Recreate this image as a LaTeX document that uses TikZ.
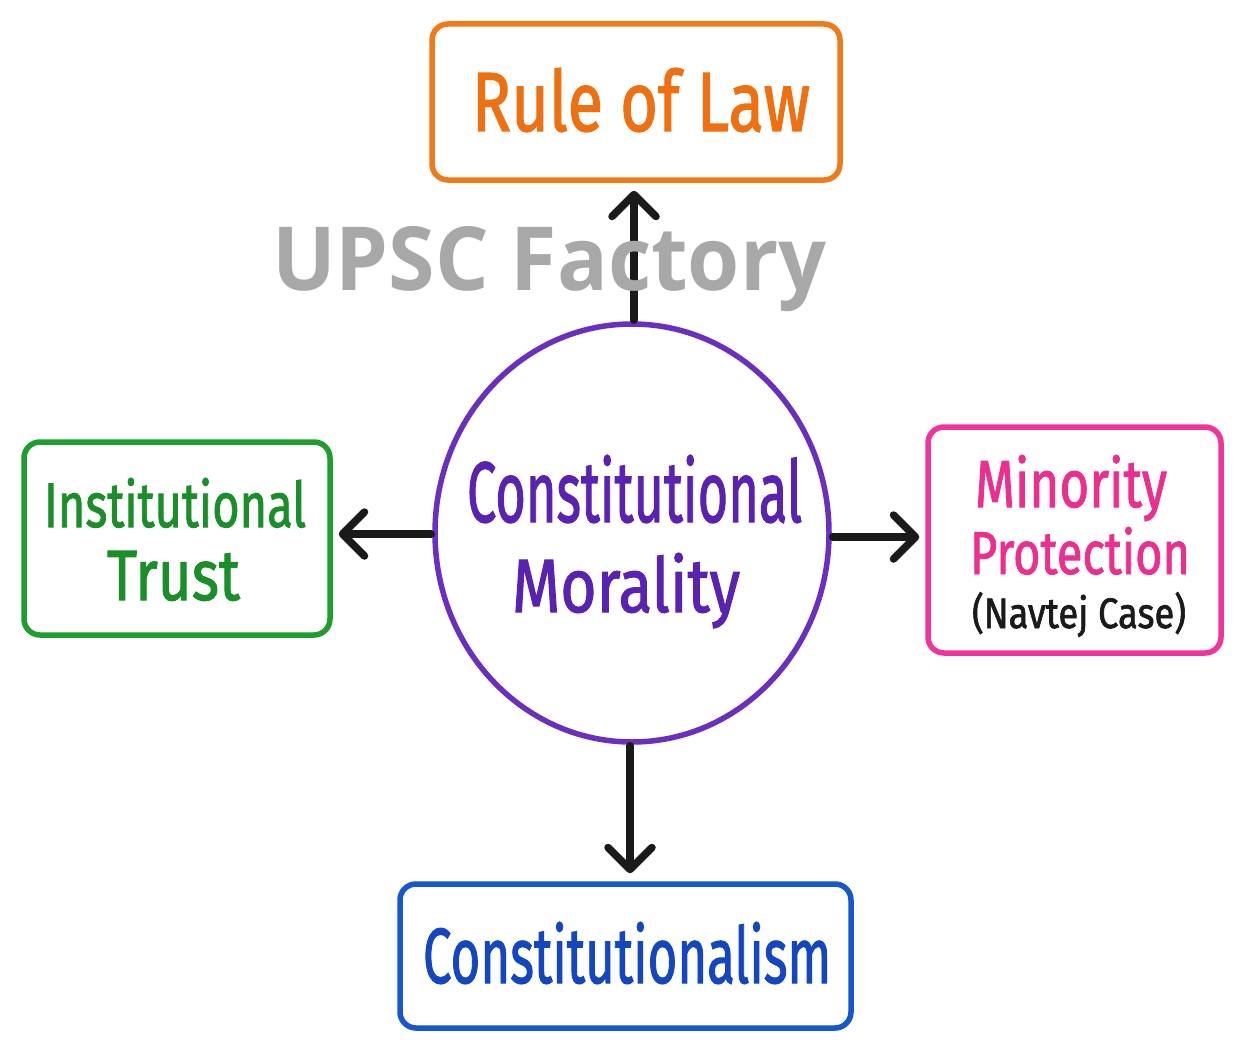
\documentclass[tikz,border=0pt]{standalone}
\usepackage{fontspec}
\setmainfont{Fira Sans}[FakeBold=1.6]
\newfontfamily\wmfont{Open Sans}
\usetikzlibrary{arrows.meta,shapes.geometric}
\definecolor{corange}{HTML}{F07A18}
\definecolor{cgreen}{HTML}{1E9E2E}
\definecolor{cpink}{HTML}{F0349C}
\definecolor{cblue}{HTML}{1656CF}
\definecolor{cpurple}{HTML}{6A2FBF}
\definecolor{tpurple}{HTML}{5A22B0}
\definecolor{tgreen}{HTML}{1A8E28}
\definecolor{tblue}{HTML}{1446C2}
\definecolor{tpink}{HTML}{EC2F8F}
\definecolor{torange}{HTML}{EE7010}
\definecolor{wm}{HTML}{A8A8A8}
\definecolor{ink}{HTML}{1A1A1A}
\newcommand{\fitt}[3]{\resizebox{#1pt}{#2pt}{#3}}
\begin{document}
\begin{tikzpicture}[x=1pt,y=-1pt,
  boxst/.style={draw, line width=5.5pt, rounded corners=16pt, inner sep=0pt},
  lbl/.style={anchor=base west, inner sep=0pt, outer sep=0pt},
  arr/.style={draw=ink, line width=7.5pt, line cap=round,
    -{Straight Barb[round,length=22pt,width=44pt]}}]
\useasboundingbox (0,0) rectangle (1247,1054);
\fill[white] (0,0) rectangle (1247,1054);
% boxes
\node[boxst, draw=corange, minimum width=408pt, minimum height=156pt] (rol) at (636,102) {};
\node[boxst, draw=cgreen, minimum width=306pt, minimum height=193pt] (it) at (177,538.5) {};
\node[boxst, draw=cpink, minimum width=293pt, minimum height=226pt] (mp) at (1074.5,540) {};
\node[boxst, draw=cblue, minimum width=451pt, minimum height=144pt] (con) at (625.5,956) {};
\node[draw=cpurple, line width=5.5pt, ellipse, minimum width=394pt, minimum height=418pt, inner sep=0pt] (cm) at (632,533) {};
% arrows
\draw[arr, shorten <=1pt, shorten >=8pt] ([xshift=2pt]cm.north) -- ([xshift=2pt]cm.north |- rol.south);
\draw[arr, shorten <=1pt, shorten >=6pt] ([yshift=-1pt]cm.west) -- ([yshift=-1pt]cm.west -| it.east);
\draw[arr, shorten <=1pt, shorten >=6pt] ([yshift=-4pt]cm.east) -- ([yshift=-4pt]cm.east -| mp.west);
\draw[arr, shorten <=1pt, shorten >=8pt] ([xshift=-2pt]cm.south) -- ([xshift=-2pt]cm.south |- con.north);
% texts
\node[lbl, text=torange] (t1) at (472,131) {\fitt{338}{63}{Rule of Law}};
\node[lbl, text=tpurple] (t2) at (467,522) {\fitt{335}{67}{Constitutional}};
\node[lbl, text=tpurple] (t3) at (512,612) {\fitt{228}{59}{Morality}};
\node[lbl, text=tgreen] (t4) at (44,527) {\fitt{262}{49}{Institutional}};
\node[lbl, text=tgreen] (t5) at (107,600) {\fitt{133}{49}{Trust}};
\node[lbl, text=tpink] (t6) at (975,507) {\fitt{192}{52}{Minority}};
\node[lbl, text=tpink] (t7) at (970,574) {\fitt{220}{47}{Protection}};
\node[lbl, text=ink] (t8) at (972,628) {\fitt{214}{36}{(Navtej Case)}};
\node[lbl, text=tblue] (t9) at (423,983) {\fitt{408}{61}{Constitutionalism}};
% watermark
\node[lbl, text=wm] (wmk) at (272,290) {\fitt{554}{64}{\wmfont\bfseries UPSC Factory}};
\end{tikzpicture}
\end{document}
